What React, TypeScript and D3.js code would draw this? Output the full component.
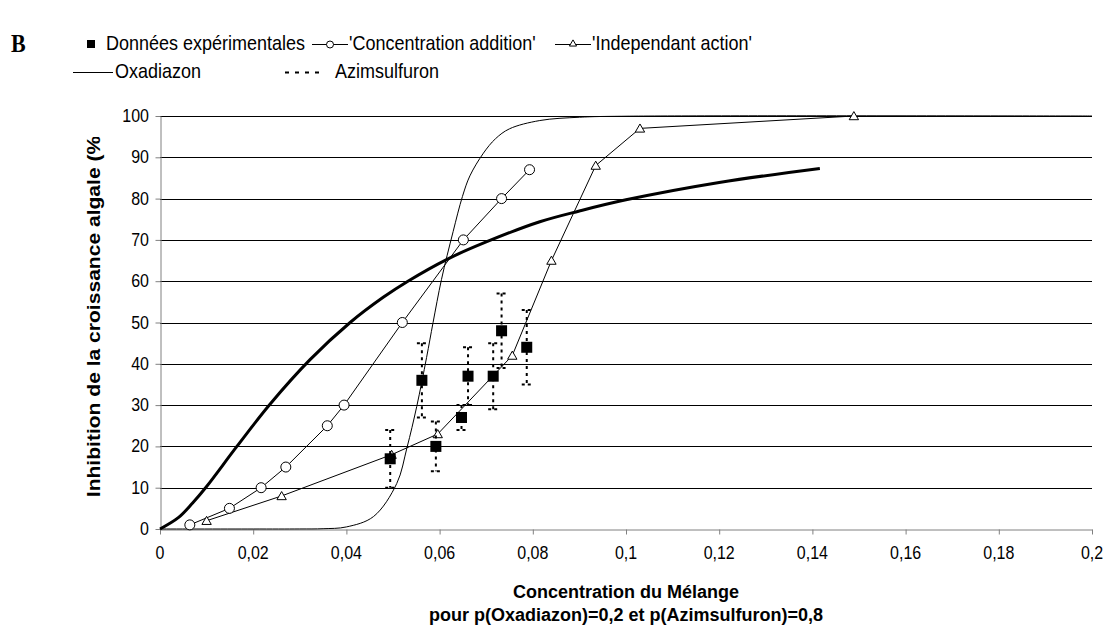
import React, { useEffect, useRef } from 'react';
import * as d3 from 'd3';

// Données expérimentales (moyenne + barres d'erreur)
const expX = [0.0494, 0.0562, 0.0592, 0.0647, 0.0661, 0.0715, 0.0733, 0.0787];
const expY = [17, 36, 20, 27, 37, 37, 48, 44];
const expLow = [10, 27, 14, 24, 30, 29, 39, 35];
const expHigh = [24, 45, 26, 30, 44, 45, 57, 53];

// 'Concentration addition'
const caX = [0.0064, 0.0149, 0.0217, 0.027, 0.0359, 0.0395, 0.052, 0.0651, 0.0733, 0.0793];
const caY = [1, 5, 10, 15, 25, 30, 50, 70, 80, 87];

// 'Independant action'
const iaX = [0.010, 0.0261, 0.0497, 0.0596, 0.0756, 0.084, 0.0935, 0.103, 0.1489];
const iaY = [2, 8, 18, 23, 42, 65, 88, 97, 100];

// Oxadiazon (thin sigmoid)
const oxaX = [0, 0.02, 0.03, 0.035, 0.04, 0.0458, 0.0508, 0.053, 0.0551, 0.0572, 0.0586, 0.0604, 0.0629, 0.0649, 0.0665, 0.0694, 0.072, 0.075, 0.0815, 0.09, 0.1, 0.2];
const oxaY = [0, 0, 0.01, 0.07, 0.5, 3, 11, 19.7, 29.7, 41.5, 50, 60.4, 72, 80.5, 85.5, 91, 94.5, 96.9, 98.9, 99.7, 99.95, 100];

// Azimsulfuron (thick curve)
const aziX = [0, 0.004, 0.007, 0.010, 0.0165, 0.0236, 0.0322, 0.0408, 0.0479, 0.0532, 0.0616, 0.07, 0.0815, 0.09, 0.1, 0.12, 0.1416];
const aziY = [0, 2.8, 6.3, 10.3, 20, 30.2, 41, 50, 56.1, 60, 65.3, 69.5, 74.4, 77, 79.7, 83.9, 87.3];

const xTicks = [0, 0.02, 0.04, 0.06, 0.08, 0.1, 0.12, 0.14, 0.16, 0.18, 0.2];
const xTickLabels = ['0', '0,02', '0,04', '0,06', '0,08', '0,1', '0,12', '0,14', '0,16', '0,18', '0,2'];
const yTicks = [0, 10, 20, 30, 40, 50, 60, 70, 80, 90, 100];

const FONT = '"Liberation Sans", Arial, sans-serif';
const SY = 1.15; // the original picture is slightly stretched vertically

const App: React.FC = () => {
  const ref = useRef<SVGSVGElement>(null);

  useEffect(() => {
    if (!ref.current) return;
    const svg = d3.select(ref.current);
    svg.selectAll('*').remove();

    const x = d3.scaleLinear().domain([0, 0.2]).range([160, 1092]);
    const y = d3.scaleLinear().domain([0, 100]).range([529, 116]);

    const label = (g: any, px: number, py: number, str: string, size: number, opts: any = {}) =>
      g.append('text')
        .attr('transform', `translate(${px},${py}) scale(1,${opts.sy || SY})`)
        .attr('text-anchor', opts.anchor || 'start')
        .style('font-family', opts.family || FONT)
        .style('font-size', size + 'px')
        .style('font-weight', opts.bold ? 'bold' : 'normal')
        .text(str);

    // gridlines
    svg.append('g')
      .selectAll('line')
      .data(yTicks.filter(d => d > 0))
      .enter().append('line')
      .attr('x1', x(0)).attr('x2', x(0.2))
      .attr('y1', d => Math.round(y(d)) + 0.5).attr('y2', d => Math.round(y(d)) + 0.5)
      .attr('stroke', '#000').attr('stroke-width', 1);

    // axes
    const gx = svg.append('g')
      .attr('transform', `translate(0,${Math.round(y(0)) + 0.5})`)
      .call(d3.axisBottom(x).tickValues(xTicks).tickSizeInner(5).tickSizeOuter(0).tickFormat(() => ''));
    const gy = svg.append('g')
      .attr('transform', `translate(${Math.round(x(0)) + 0.5},0)`)
      .call(d3.axisLeft(y).tickValues(yTicks).tickSizeInner(5).tickSizeOuter(0).tickFormat(() => ''));
    [gx, gy].forEach(g => {
      g.select('.domain').attr('stroke', '#808080');
      g.selectAll('.tick line').attr('stroke', '#808080');
    });
    xTicks.forEach((t, i) => label(svg, x(t), 559, xTickLabels[i], 16, { anchor: 'middle' }));
    yTicks.forEach(t => label(svg, 149, y(t) + 6, String(t), 16, { anchor: 'end' }));

    const defs = svg.append('defs');
    defs.append('clipPath').attr('id', 'plotclip')
      .append('rect').attr('x', 0).attr('y', 110).attr('width', 1112).attr('height', 430);
    const plot = svg.append('g').attr('clip-path', 'url(#plotclip)');

    const pts = (xs: number[], ys: number[]) => xs.map((v, i) => [v, ys[i]] as [number, number]);
    const smooth = d3.line<[number, number]>().x(d => x(d[0])).y(d => y(d[1])).curve(d3.curveCatmullRom.alpha(0.5));
    const straight = d3.line<[number, number]>().x(d => x(d[0])).y(d => y(d[1]));

    // Azimsulfuron thick
    plot.append('path').attr('d', smooth(pts(aziX, aziY)))
      .attr('fill', 'none').attr('stroke', '#000').attr('stroke-width', 3);
    // Oxadiazon thin
    plot.append('path').attr('d', smooth(pts(oxaX, oxaY)))
      .attr('fill', 'none').attr('stroke', '#000').attr('stroke-width', 1);
    // CA
    plot.append('path').attr('d', straight(pts(caX, caY)))
      .attr('fill', 'none').attr('stroke', '#000').attr('stroke-width', 1);
    // IA
    plot.append('path').attr('d', straight(pts(iaX, iaY)))
      .attr('fill', 'none').attr('stroke', '#000').attr('stroke-width', 1);

    plot.selectAll('.ca').data(pts(caX, caY)).enter().append('circle')
      .attr('cx', d => x(d[0])).attr('cy', d => y(d[1])).attr('r', 5)
      .attr('fill', '#fff').attr('stroke', '#000').attr('stroke-width', 1);

    const tri = d3.symbol().type(d3.symbolTriangle).size(38);
    plot.selectAll('.ia').data(pts(iaX, iaY)).enter().append('path')
      .attr('d', tri())
      .attr('transform', d => `translate(${x(d[0])},${y(d[1]) + 1})`)
      .attr('fill', '#fff').attr('stroke', '#000').attr('stroke-width', 1);

    // error bars (dotted)
    const eb = plot.selectAll('.eb').data(expX.map((v, i) => i)).enter().append('g');
    eb.append('line')
      .attr('x1', i => x(expX[i])).attr('x2', i => x(expX[i]))
      .attr('y1', i => y(expHigh[i])).attr('y2', i => y(expLow[i]))
      .attr('stroke', '#000').attr('stroke-width', 2).attr('stroke-dasharray', '3,4');
    [expHigh, expLow].forEach(arr => {
      eb.append('line')
        .attr('x1', i => x(expX[i]) - 5).attr('x2', i => x(expX[i]) + 5)
        .attr('y1', i => y(arr[i])).attr('y2', i => y(arr[i]))
        .attr('stroke', '#000').attr('stroke-width', 2).attr('stroke-dasharray', '3,3');
    });

    plot.selectAll('.exp').data(pts(expX, expY)).enter().append('rect')
      .attr('x', d => x(d[0]) - 5.5).attr('y', d => y(d[1]) - 5.5)
      .attr('width', 11).attr('height', 11).attr('fill', '#000');

    // axis titles
    label(svg, 626, 598, 'Concentration du Mélange', 18, { anchor: 'middle', bold: true, sy: 1 });
    label(svg, 626, 621, 'pour p(Oxadiazon)=0,2 et p(Azimsulfuron)=0,8', 18, { anchor: 'middle', bold: true, sy: 1 });

    defs.append('clipPath').attr('id', 'ytclip')
      .append('rect').attr('x', 0).attr('y', 137).attr('width', 150).attr('height', 420);
    svg.append('g').attr('clip-path', 'url(#ytclip)')
      .append('text')
      .attr('transform', 'translate(100,313) scale(1,1.17) rotate(-90)')
      .attr('text-anchor', 'middle')
      .style('font-family', FONT).style('font-size', '18px').style('font-weight', 'bold')
      .text('Inhibition de la croissance algale (%)');

    // legend
    label(svg, 11, 52, 'B', 22, { family: '"Liberation Serif", "Times New Roman", serif', bold: true });

    svg.append('rect').attr('x', 87).attr('y', 40).attr('width', 8).attr('height', 8).attr('fill', '#000');
    label(svg, 106, 50, 'Données expérimentales', 18);

    svg.append('line').attr('x1', 312).attr('x2', 348).attr('y1', 44.5).attr('y2', 44.5).attr('stroke', '#000');
    svg.append('circle').attr('cx', 330).attr('cy', 44.5).attr('r', 3.5).attr('fill', '#fff').attr('stroke', '#000');
    label(svg, 349, 50, "'Concentration addition'", 18);

    svg.append('line').attr('x1', 555).attr('x2', 591).attr('y1', 44.5).attr('y2', 44.5).attr('stroke', '#000');
    svg.append('path').attr('d', d3.symbol().type(d3.symbolTriangle).size(22)())
      .attr('transform', 'translate(573,44)').attr('fill', '#fff').attr('stroke', '#000');
    label(svg, 592, 50, "'Independant action'", 18);

    svg.append('line').attr('x1', 73).attr('x2', 113).attr('y1', 72.5).attr('y2', 72.5).attr('stroke', '#000');
    label(svg, 115, 78, 'Oxadiazon', 18);

    svg.append('line').attr('x1', 285).attr('x2', 322).attr('y1', 72.5).attr('y2', 72.5)
      .attr('stroke', '#000').attr('stroke-width', 2).attr('stroke-dasharray', '4,6');
    label(svg, 335, 78, 'Azimsulfuron', 18);
  }, []);

  return (
    <div style={{ position: 'absolute', left: 0, top: 0, background: '#fff' }}>
      <svg ref={ref} width={1112} height={628} />
    </div>
  );
};

export default App;
